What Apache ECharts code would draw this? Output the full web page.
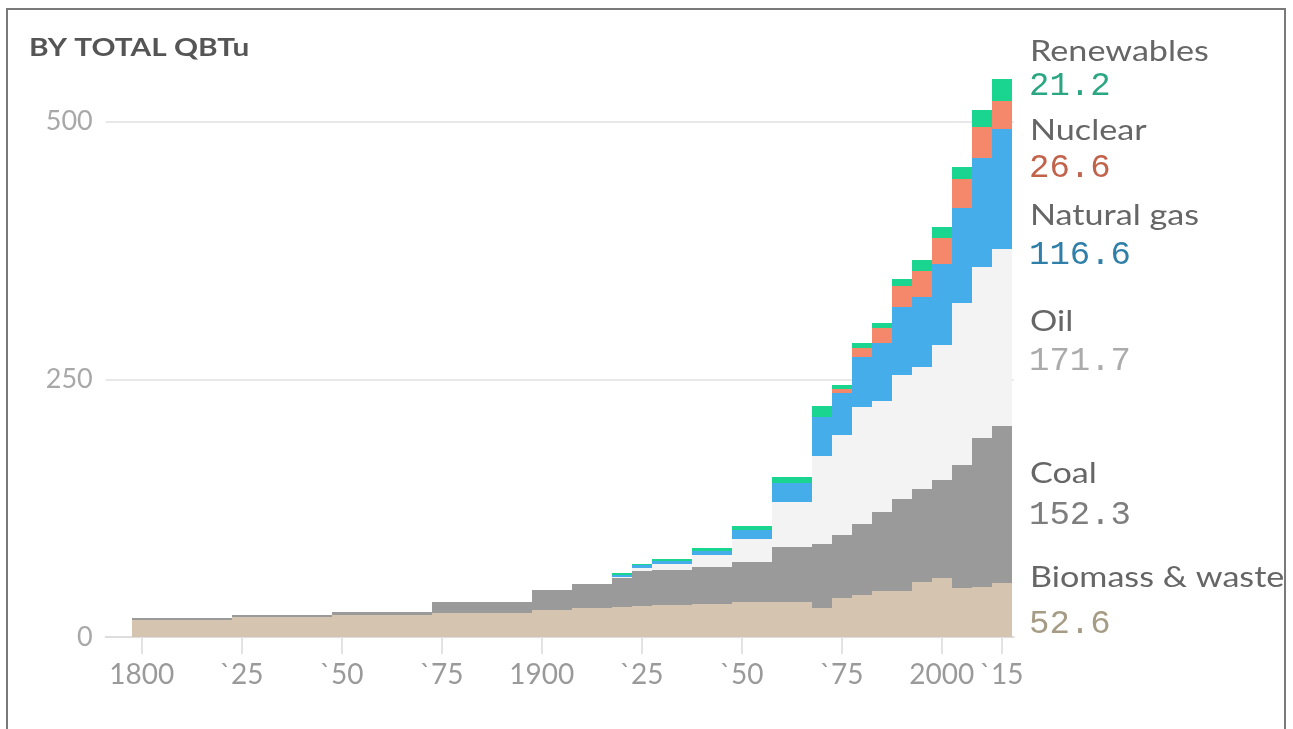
<!DOCTYPE html>
<html><head><meta charset="utf-8">
<script src="https://cdn.jsdelivr.net/npm/echarts@6/dist/echarts.min.js"></script>
<style>html,body{margin:0;padding:0;background:#fff;}#c{width:1293px;height:729px;}</style>
</head><body><div id="c"></div>
<script>
const years      = [1800,1825,1850,1875,1900,1910,1920,1925,1930,1940,1950,1960,1970,1975,1980,1985,1990,1995,2000,2005,2010,2015];
const biomass    = [16.5,19.1,21.3,23.0,26.2,27.8,29.4,30.4,31.0,32.0,34.2,34.2,27.8,37.8,40.7,44.6,44.2,53.6,57.2,47.3,48.5,52.6];
const coal       = [2.2,2.2,3.2,10.7,19.4,23.3,27.5,33.6,34.0,36.2,38.8,53.1,62.4,61.1,68.9,76.9,89.6,90.2,95.0,119.3,144.7,152.3];
const oil        = [0,0,0,0,0,0,1.0,3.2,5.8,11.3,22.0,43.9,85.8,97.0,113.8,107.4,120.3,117.9,131.0,157.9,165.5,171.7];
const gas        = [0,0,0,0,0,0,2.5,2.2,2.8,4.3,8.6,17.8,37.6,40.4,48.5,56.0,66.0,68.2,79.0,91.6,105.9,116.6];
const nuclear    = [0,0,0,0,0,0,0,0,0,0,0,0,0,3.9,8.1,14.5,20.1,25.1,25.1,28.7,30.5,26.6];
const renewables = [0,0,0,0,0,0,1.5,1.4,1.8,2.8,4.0,5.8,10.4,4.2,4.8,5.4,7.1,10.8,10.8,10.8,16.1,21.2];

const seriesNames = ['Biomass & waste','Coal','Oil','Natural gas','Nuclear','Renewables'];
const tickYears  = [1800,1825,1850,1875,1900,1925,1950,1975,2000,2015];
const tickLabels = ['1800','`25','`50','`75','1900','`25','`50','`75','2000','`15'];
const titleText = 'BY TOTAL QBTu';

const layers = [biomass, coal, oil, gas, nuclear, renewables];
const colors = ['#d4c4b0','#9a9a9a','#f3f3f3','#44adea','#f5876b','#19d590'];
const valueColors = ['#a69c85','#7d7d7d','#ababab','#2f7fa8','#c2624b','#2aa683'];
const nameY = [578, 474, 322, 216, 131, 52];
const valY  = [624, 515, 361, 255, 168, 86];

const half = 2.5;
function edges(i){
  const s = years[i] - half;
  const e = i < years.length - 1 ? years[i+1] - half : years[i] + half;
  return [s, e];
}

const base = years.map(() => 0);
const series = layers.map((vals, k) => {
  const data = vals.map((v, i) => {
    const [s, e] = edges(i);
    const lo = base[i];
    base[i] += v;
    return [s, e, lo, base[i], v];
  });
  return {
    type: 'custom', name: seriesNames[k], silent: true, clip: false, z: 3,
    encode: { x: [0, 1], y: [2, 3] },
    data: data,
    renderItem: function (params, api) {
      if (!(api.value(4) > 0)) return null;
      const p0 = api.coord([api.value(0), api.value(3)]);
      const p1 = api.coord([api.value(1), api.value(2)]);
      const x0 = Math.round(p0[0]), x1 = Math.round(p1[0]);
      const y0 = Math.round(p0[1]), y1 = Math.round(p1[1]);
      return { type: 'rect', shape: { x: x0, y: y0, width: x1 - x0, height: Math.max(1, y1 - y0) }, style: { fill: colors[k] } };
    }
  };
});

const last = years.length - 1;
const graphics = [
  { type: 'rect', shape: { x: 7, y: 9, width: 1278, height: 740 }, style: { fill: 'none', stroke: '#7a7a7a', lineWidth: 2 }, z: 10, silent: true },
  { type: 'text', x: 29, y: 48, scaleX: 1.24, style: { text: titleText, font: 'bold 24px Lato', fill: '#555', verticalAlign: 'middle' }, z: 10 }
];
layers.forEach((vals, k) => {
  graphics.push({ type: 'text', x: 1030, y: nameY[k], scaleX: 1.22,
    style: { text: seriesNames[k], font: '28px Lato', fill: '#666', verticalAlign: 'middle' }, z: 10 });
  graphics.push({ type: 'text', x: 1029, y: valY[k],
    style: { text: vals[last].toFixed(1), font: '34px "Liberation Mono"', fill: valueColors[k], verticalAlign: 'middle' }, z: 10 });
});

const chart = echarts.init(document.getElementById('c'), null, { renderer: 'canvas' });
chart.setOption({
  backgroundColor: '#ffffff',
  animation: false,
  grid: { left: 105.7, width: 908, top: 121.7, bottom: 92 },
  xAxis: {
    type: 'value', min: 1791, max: 2018,
    axisLine: { show: true, lineStyle: { color: '#dddddd', width: 2 } },
    axisTick: { show: true, customValues: tickYears, length: 17, lineStyle: { color: '#e2e2e2', width: 2 } },
    axisLabel: { customValues: tickYears, formatter: v => tickLabels[tickYears.indexOf(v)], color: '#9a9a9a', fontSize: 28, fontFamily: 'Lato', margin: 24 },
    splitLine: { show: false }
  },
  yAxis: {
    type: 'value', min: 0, max: 500, interval: 250,
    axisLine: { show: false }, axisTick: { show: false },
    axisLabel: { color: '#a8a8a8', fontSize: 27, fontFamily: 'Lato', margin: 13 },
    splitLine: { lineStyle: { color: '#e8e8e8', width: 2 } }
  },
  graphic: graphics,
  series: series
});
</script>
</body></html>
